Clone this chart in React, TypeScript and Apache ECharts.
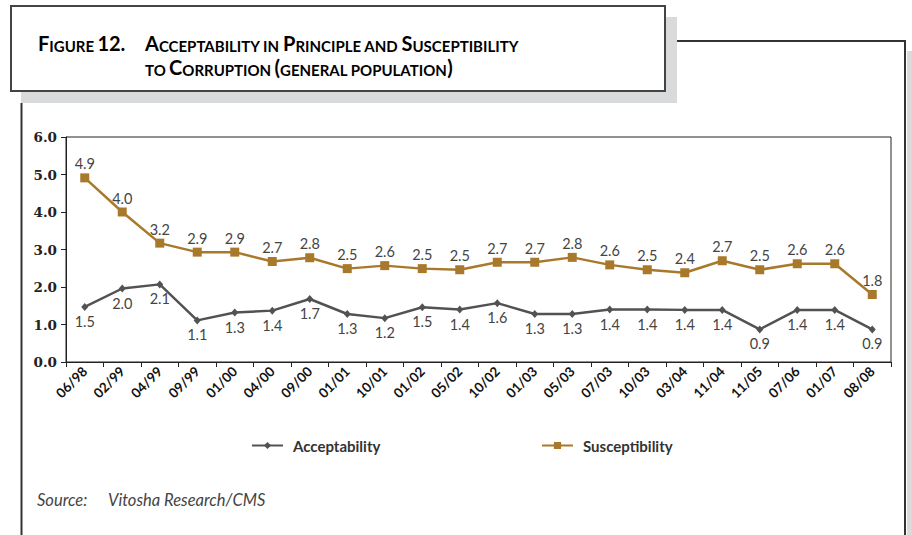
import React, { useEffect, useRef } from "react";
import * as echarts from "echarts";

const categories = ["06/98", "02/99", "04/99", "09/99", "01/00", "04/00", "09/00", "01/01", "10/01", "01/02", "05/02", "10/02", "01/03", "05/03", "07/03", "10/03", "03/04", "11/04", "11/05", "07/06", "01/07", "08/08"];
const acceptability = [1.47, 1.96, 2.07, 1.11, 1.32, 1.37, 1.68, 1.28, 1.17, 1.46, 1.4, 1.57, 1.28, 1.28, 1.4, 1.4, 1.39, 1.39, 0.87, 1.39, 1.39, 0.87];
const susceptibility = [4.91, 4.0, 3.17, 2.93, 2.93, 2.68, 2.78, 2.49, 2.57, 2.49, 2.46, 2.66, 2.66, 2.79, 2.59, 2.46, 2.38, 2.7, 2.46, 2.62, 2.62, 1.8];
const yTicks = { min: 0, max: 6, interval: 1 };

const ACC_COLOR = "#525252";
const SUS_COLOR = "#A8792B";
const SANS = "Lato, 'Noto Sans', sans-serif";

export default function App() {
  const ref = useRef<HTMLDivElement>(null);
  useEffect(() => {
    if (!ref.current) return;
    const chart = echarts.init(ref.current, null, { renderer: "svg" });
    const big = { fontSize: 20, fontWeight: "bold", fontFamily: SANS, color: "#222", verticalAlign: "bottom", lineHeight: 22 };
    const sm = { fontSize: 15, fontWeight: "bold", fontFamily: SANS, color: "#222", verticalAlign: "bottom", lineHeight: 22 };
    chart.setOption({
      animation: false,
      backgroundColor: "#ffffff",
      grid: { left: 66, right: 21, top: 137, bottom: 173, show: true, borderColor: "#222", borderWidth: 1, containLabel: false },
      xAxis: {
        type: "category",
        data: categories,
        boundaryGap: true,
        axisLine: { lineStyle: { color: "#222", width: 1 } },
        axisTick: { show: true, length: 5, lineStyle: { color: "#222" } },
        axisLabel: { rotate: 45, fontSize: 13.5, fontWeight: "bold", fontFamily: SANS, color: "#111", margin: 7, interval: 0 },
      },
      yAxis: {
        type: "value",
        min: yTicks.min,
        max: yTicks.max,
        interval: yTicks.interval,
        splitLine: { show: false },
        axisLine: { show: true, lineStyle: { color: "#222", width: 1 } },
        axisTick: { show: true, length: 5, lineStyle: { color: "#222" } },
        axisLabel: { fontSize: 13.5, fontWeight: "bold", fontFamily: "'DejaVu Serif', serif", color: "#222", margin: 9, formatter: (v: number) => v.toFixed(1) },
      },
      legend: [
        {
          data: ["Acceptability"], left: 251, top: 438, padding: 0, itemWidth: 31, itemHeight: 9,
          textStyle: { fontSize: 15, fontWeight: "bold", fontFamily: SANS, color: "#333", padding: [0, 0, 0, 5] },
        },
        {
          data: ["Susceptibility"], left: 541, top: 438, padding: 0, itemWidth: 31, itemHeight: 9,
          textStyle: { fontSize: 15, fontWeight: "bold", fontFamily: SANS, color: "#333", padding: [0, 0, 0, 5] },
        },
      ],
      series: [
        {
          name: "Acceptability", type: "line", data: acceptability,
          symbol: "diamond", symbolSize: [7, 8],
          lineStyle: { color: ACC_COLOR, width: 2.5 },
          itemStyle: { color: ACC_COLOR },
          label: { show: true, position: "bottom", distance: 3, fontSize: 14.5, fontFamily: SANS, color: "#444", formatter: (p: any) => Number(p.value).toFixed(1) },
        },
        {
          name: "Susceptibility", type: "line", data: susceptibility,
          symbol: "rect", symbolSize: 9,
          lineStyle: { color: SUS_COLOR, width: 2.5 },
          itemStyle: { color: SUS_COLOR },
          label: { show: true, position: "top", distance: 2, fontSize: 14.5, fontFamily: SANS, color: "#444", formatter: (p: any) => Number(p.value).toFixed(1) },
        },
      ],
      graphic: [
        { type: "rect", shape: { x: 21, y: 17, width: 656, height: 86 }, style: { fill: "#d9dadc" }, z: 1 },
        { type: "rect", shape: { x: 11, y: 6, width: 654, height: 85 }, style: { fill: "#ffffff", stroke: "#444", lineWidth: 2 }, z: 2 },
        { type: "line", shape: { x1: 677, y1: 41, x2: 906, y2: 41 }, style: { stroke: "#333", lineWidth: 2 }, z: 2 },
        { type: "line", shape: { x1: 905, y1: 40, x2: 905, y2: 535 }, style: { stroke: "#333", lineWidth: 2 }, z: 2 },
        { type: "rect", shape: { x: 907, y: 51, width: 5, height: 484 }, style: { fill: "#d9dadc" }, z: 1 },
        { type: "line", shape: { x1: 21.5, y1: 103, x2: 21.5, y2: 535 }, style: { stroke: "#333", lineWidth: 2 }, z: 2 },
        {
          type: "text", x: 38, y: 31, z: 3,
          style: { text: "{b|F}{s|IGURE} {b|12.}", rich: { b: big, s: sm } },
        },
        {
          type: "text", x: 145, y: 31, z: 3,
          style: { text: "{b|A}{s|CCEPTABILITY IN} {b|P}{s|RINCIPLE AND} {b|S}{s|USCEPTIBILITY}", rich: { b: big, s: sm } },
        },
        {
          type: "text", x: 145, y: 55, z: 3,
          style: { text: "{s|TO} {b|C}{s|ORRUPTION} {b|(}{s|GENERAL POPULATION}{b|)}", rich: { b: big, s: sm } },
        },
        {
          type: "text", x: 37, y: 500, z: 3,
          style: { text: "Source:", fontSize: 16.5, fontStyle: "italic", fontFamily: SANS, fill: "#444", verticalAlign: "middle" },
        },
        {
          type: "text", x: 108, y: 500, z: 3,
          style: { text: "Vitosha Research/CMS", fontSize: 16.5, fontStyle: "italic", fontFamily: SANS, fill: "#444", verticalAlign: "middle" },
        },
      ],
    });
    return () => chart.dispose();
  }, []);
  return <div ref={ref} style={{ position: "absolute", left: 0, top: 0, width: 912, height: 535 }} />;
}
